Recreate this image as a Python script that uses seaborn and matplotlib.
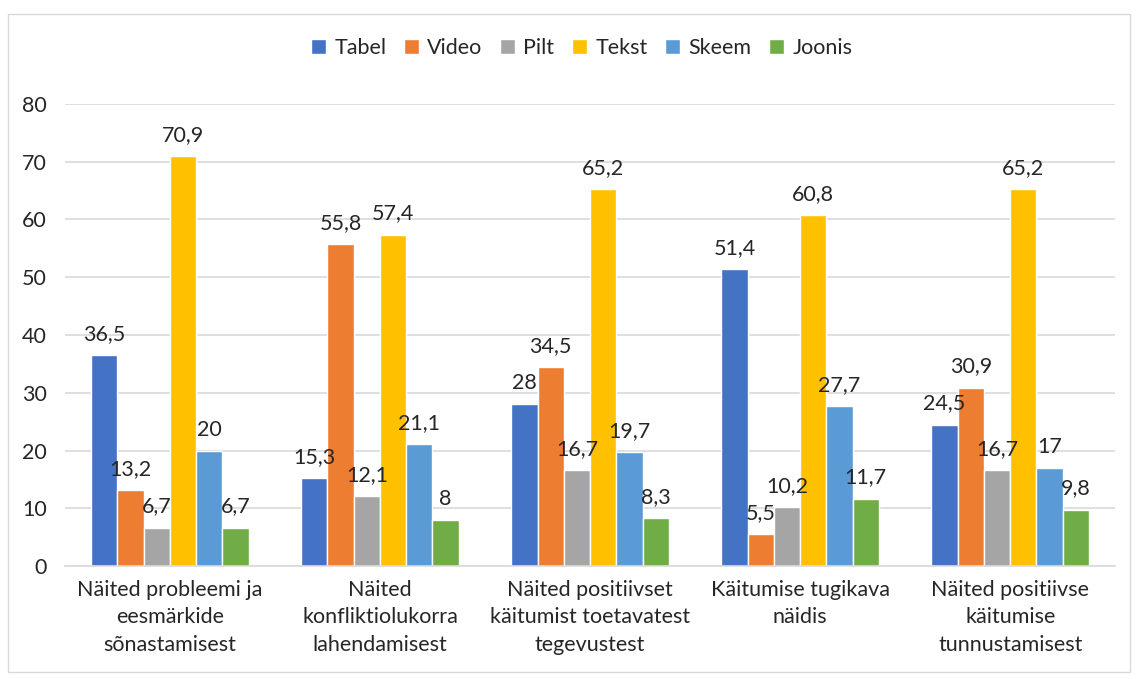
import matplotlib.pyplot as plt
import pandas as pd
import seaborn as sns
from matplotlib.patches import Rectangle

CATEGORIES = [
    "Näited probleemi ja\neesmärkide\nsõnastamisest",
    "Näited\nkonfliktiolukorra\nlahendamisest",
    "Näited positiivset\nkäitumist toetavatest\ntegevustest",
    "Käitumise tugikava\nnäidis",
    "Näited positiivse\nkäitumise\ntunnustamisest",
]
SERIES = ["Tabel", "Video", "Pilt", "Tekst", "Skeem", "Joonis"]
TABEL = [36.5, 15.3, 28, 51.4, 24.5]
VIDEO = [13.2, 55.8, 34.5, 5.5, 30.9]
PILT = [6.7, 12.1, 16.7, 10.2, 16.7]
TEKST = [70.9, 57.4, 65.2, 60.8, 65.2]
SKEEM = [20, 21.1, 19.7, 27.7, 17]
JOONIS = [6.7, 8, 8.3, 11.7, 9.8]
Y_TICKS = [0, 10, 20, 30, 40, 50, 60, 70, 80]

COLORS = ["#4472C4", "#ED7D31", "#A5A5A5", "#FFC000", "#5B9BD5", "#70AD47"]

sns.set_theme(style="white")
plt.rcParams["font.family"] = ["Lato", "DejaVu Sans"]

values = [TABEL, VIDEO, PILT, TEKST, SKEEM, JOONIS]
rows = []
for name, vals in zip(SERIES, values):
    for cat, v in zip(CATEGORIES, vals):
        rows.append({"kategooria": cat, "seeria": name, "väärtus": v})
df = pd.DataFrame(rows)

fig = plt.figure(figsize=(11.38, 6.79), dpi=100)
ax = fig.add_axes([0.057, 0.166, 0.923, 0.681])

sns.barplot(
    data=df,
    x="kategooria",
    y="väärtus",
    hue="seeria",
    hue_order=SERIES,
    order=CATEGORIES,
    palette=COLORS,
    width=0.75,
    gap=0,
    saturation=1,
    ax=ax,
)

for container in ax.containers:
    labels = [f"{b.get_height():g}".replace(".", ",") for b in container]
    ax.bar_label(container, labels=labels, padding=8, fontsize=15.5, color="#262626")

ax.set_ylim(0, 80)
ax.set_yticks(Y_TICKS)
ax.yaxis.grid(True, color="#D9D9D9", linewidth=1.2)
ax.set_axisbelow(True)
for side in ["top", "right", "left"]:
    ax.spines[side].set_visible(False)
ax.spines["bottom"].set_color("#D9D9D9")
ax.spines["bottom"].set_linewidth(1.2)
ax.tick_params(axis="both", length=0, labelsize=15.5, labelcolor="#262626")
ax.tick_params(axis="x", pad=10)
ax.tick_params(axis="y", pad=13)
for lbl in ax.get_xticklabels():
    lbl.set_linespacing(1.45)
ax.set_xlabel("")
ax.set_ylabel("")

handles, lbls = ax.get_legend_handles_labels()
ax.legend_.remove()
fig.legend(
    handles,
    lbls,
    loc="center",
    bbox_to_anchor=(0.511, 0.929),
    ncol=6,
    frameon=False,
    fontsize=15.5,
    handlelength=0.7,
    handleheight=0.7,
    handletextpad=0.4,
    columnspacing=0.8,
)

fig.patches.append(
    Rectangle((0.007, 0.01), 0.986, 0.97, transform=fig.transFigure,
              fill=False, edgecolor="#D9D9D9", linewidth=1)
)

fig.savefig("out.png", dpi=100, facecolor="white")
